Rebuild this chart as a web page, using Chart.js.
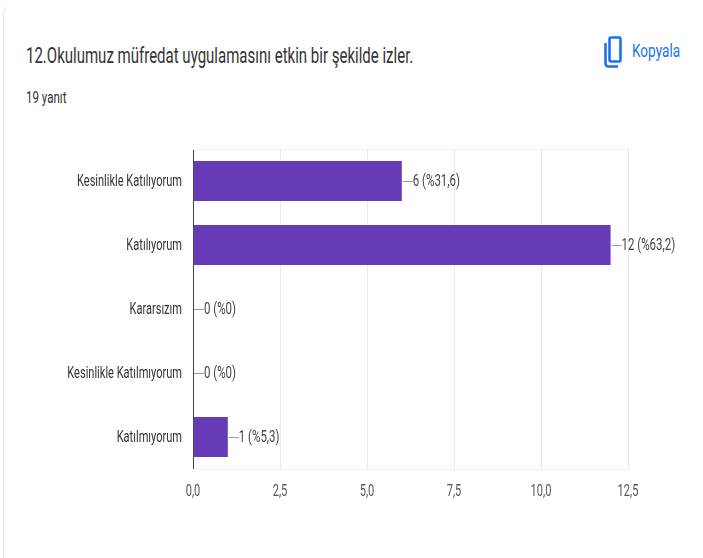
<!DOCTYPE html>
<html lang="tr">
<head>
<meta charset="utf-8">
<title>12.Okulumuz müfredat</title>
<script src="https://cdn.jsdelivr.net/npm/chart.js@4"></script>
<style>
html, body { margin: 0; padding: 0; background: #fff; }
body { width: 703px; height: 558px; position: relative; overflow: hidden; font-family: Roboto, sans-serif; }
#card { position: absolute; left: 3px; top: 4px; width: 760px; height: 600px; border-left: 1.5px solid #e2e2e2; border-top: 1px solid transparent; border-top-left-radius: 10px; box-sizing: border-box; }
#chartBox { position: absolute; left: 0; top: 0; width: 703px; height: 558px; }
#title, #count, #copy { position: absolute; white-space: nowrap; transform-origin: left center; }
#title { left: 26px; top: 43px; font-size: 22.5px; line-height: 24px; color: #333; transform: scaleX(0.667); }
#count { left: 26px; top: 89px; font-size: 16px; line-height: 18px; color: #333; transform: scaleX(0.72); }
#copy { left: 632px; top: 41px; font-size: 18px; line-height: 20px; color: #1a73e8; transform: scaleX(0.755); }
#icon { position: absolute; left: 604px; top: 36px; }
</style>
</head>
<body>
<div id="card"></div>
<div id="title">12.Okulumuz müfredat uygulamasını etkin bir şekilde izler.</div>
<div id="count">19 yanıt</div>
<svg id="icon" width="18" height="32" viewBox="0 0 18 32">
  <path d="M1.5 7 V27 Q1.5 30.5 4.5 30.5 H14" fill="none" stroke="#1a73e8" stroke-width="2.6"/>
  <rect x="5.5" y="1.5" width="11" height="24" rx="1.5" fill="none" stroke="#1a73e8" stroke-width="2.6"/>
</svg>
<div id="copy">Kopyala</div>
<div id="chartBox"><canvas id="chart"></canvas></div>
<script>
// veriler
var categories = ["Kesinlikle Katılıyorum", "Katılıyorum", "Kararsızım", "Kesinlikle Katılmıyorum", "Katılmıyorum"];
var values = [6, 12, 0, 0, 1];
var valueLabels = ["6 (%31,6)", "12 (%63,2)", "0 (%0)", "0 (%0)", "1 (%5,3)"];
var xTickLabels = ["0,0", "2,5", "5,0", "7,5", "10,0", "12,5"];
var fontName = "Roboto, sans-serif";

var canvas = document.getElementById("chart");

// resimdeki yazilar yatayda sikisik, dar font yok o yuzden elle daraltiyoruz
var ctx0 = canvas.getContext("2d");
var origFillText = ctx0.fillText;
ctx0.fillText = function (text, x, y) {
    this.save();
    this.translate(x, y + 1);
    this.scale(0.69, 1);
    origFillText.call(this, text, 0, 0);
    this.restore();
};

// cubuk sonundaki cizgi + yazi
var barLabels = {
    id: "barLabels",
    afterDatasetsDraw: function (chart) {
        var ctx = chart.ctx;
        var x = chart.scales.x, y = chart.scales.y;
        ctx.save();
        ctx.strokeStyle = "#f0f0f0";
        ctx.lineWidth = 1;
        ctx.beginPath();
        ctx.moveTo(chart.chartArea.left, chart.chartArea.top + 0.5);
        ctx.lineTo(chart.chartArea.right, chart.chartArea.top + 0.5);
        ctx.moveTo(chart.chartArea.left, chart.chartArea.bottom + 0.5);
        ctx.lineTo(chart.chartArea.right, chart.chartArea.bottom + 0.5);
        ctx.stroke();
        ctx.font = "16.6px " + fontName;
        ctx.textBaseline = "middle";
        ctx.textAlign = "left";
        for (var i = 0; i < values.length; i++) {
            var px = x.getPixelForValue(values[i]);
            var py = Math.round(y.getPixelForValue(i));
            ctx.strokeStyle = "#9e9e9e";
            ctx.beginPath();
            ctx.moveTo(px + 1, py + 0.5);
            ctx.lineTo(px + 11, py + 0.5);
            ctx.stroke();
            ctx.fillStyle = "#444";
            ctx.fillText(valueLabels[i], px + 11, py);
        }
        ctx.restore();
    }
};

var barChart = new Chart(canvas, {
    type: "bar",
    data: {
        labels: categories,
        datasets: [{
            data: values,
            backgroundColor: "#673ab7",
            barPercentage: 0.625,
            categoryPercentage: 1
        }]
    },
    options: {
        indexAxis: "y",
        responsive: true,
        maintainAspectRatio: false,
        animation: false,
        layout: { padding: { left: 0, right: 75, top: 149, bottom: 0 } },
        plugins: { legend: { display: false }, tooltip: { enabled: false } },
        scales: {
            x: {
                min: 0,
                max: 12.5,
                ticks: {
                    stepSize: 2.5,
                    maxRotation: 0,
                    color: "#555",
                    padding: 12,
                    font: { family: fontName, size: 16 },
                    callback: function (v, i) { return xTickLabels[i]; }
                },
                grid: {
                    drawTicks: false,
                    color: function (c) { return c.index === 0 ? "transparent" : "#e9e9e9"; }
                },
                border: { display: false },
                afterFit: function (s) { s.height = 89; }
            },
            y: {
                ticks: {
                    color: "#333",
                    padding: 11,
                    font: { family: fontName, size: 16 }
                },
                grid: { display: false, drawTicks: false },
                border: { display: true, color: "#444", width: 1 },
                afterFit: function (s) { s.width = 193; }
            }
        }
    },
    plugins: [barLabels]
});
</script>
</body>
</html>
